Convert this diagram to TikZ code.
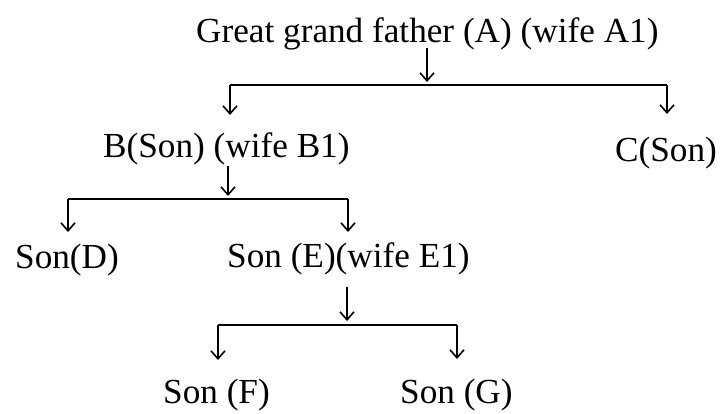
\documentclass[tikz,border=0pt]{standalone}
\usepackage{fontspec}
\setmainfont{Liberation Serif}
\usetikzlibrary{arrows.meta}
\begin{document}
\begin{tikzpicture}[x=1pt,y=-1pt,
  lbl/.style={anchor=base west,inner sep=0pt,font=\fontsize{35.2}{40}\selectfont},
  conn/.style={line width=1.7pt},
  arr/.style={conn,-{Straight Barb[length=8pt,width=14pt,line width=1.6pt]}}]
\useasboundingbox (0,0) rectangle (722,413);
\fill[white] (0,0) rectangle (722,413);
% text nodes
\node[lbl] (A) at (196,42) {Great grand father (A) (wife A1)};
\node[lbl] (B) at (103,157) {B(Son) (wife B1)};
\node[lbl] (C) at (615,161) {C(Son)};
\node[lbl] (D) at (15,268) {Son(D)};
\node[lbl] (E) at (227,267) {Son (E)(wife E1)};
\node[lbl] (F) at (163,403) {Son (F)};
\node[lbl] (G) at (400,403) {Son (G)};
% junction coordinates
\coordinate (a0) at (427,48);  \coordinate (a1) at (427,82);
\coordinate (aL) at (230,85);  \coordinate (aR) at (667,85);
\coordinate (b0) at (228,166); \coordinate (b1) at (228,196);
\coordinate (bL) at (68,199);  \coordinate (bR) at (348,199);
\coordinate (e0) at (347,287); \coordinate (e1) at (347,321);
\coordinate (eL) at (218,325); \coordinate (eR) at (457,325);
% level 1
\draw[arr] (a0) -- (a1);
\draw[conn] (aL) -- (aR);
\draw[arr] (aL) -- (aL |- 0,115);
\draw[arr] (aR) -- (aR |- 0,114);
% level 2
\draw[arr] (b0) -- (b1);
\draw[conn] (bL) -- (bR);
\draw[arr] (bL) -- (bL |- 0,232);
\draw[arr] (bR) -- (bR |- 0,232);
% level 3
\draw[arr] (e0) -- (e1);
\draw[conn] (eL) -- (eR);
\draw[arr] (eL) -- (eL |- 0,360);
\draw[arr] (eR) -- (eR |- 0,359);
\end{tikzpicture}
\end{document}
